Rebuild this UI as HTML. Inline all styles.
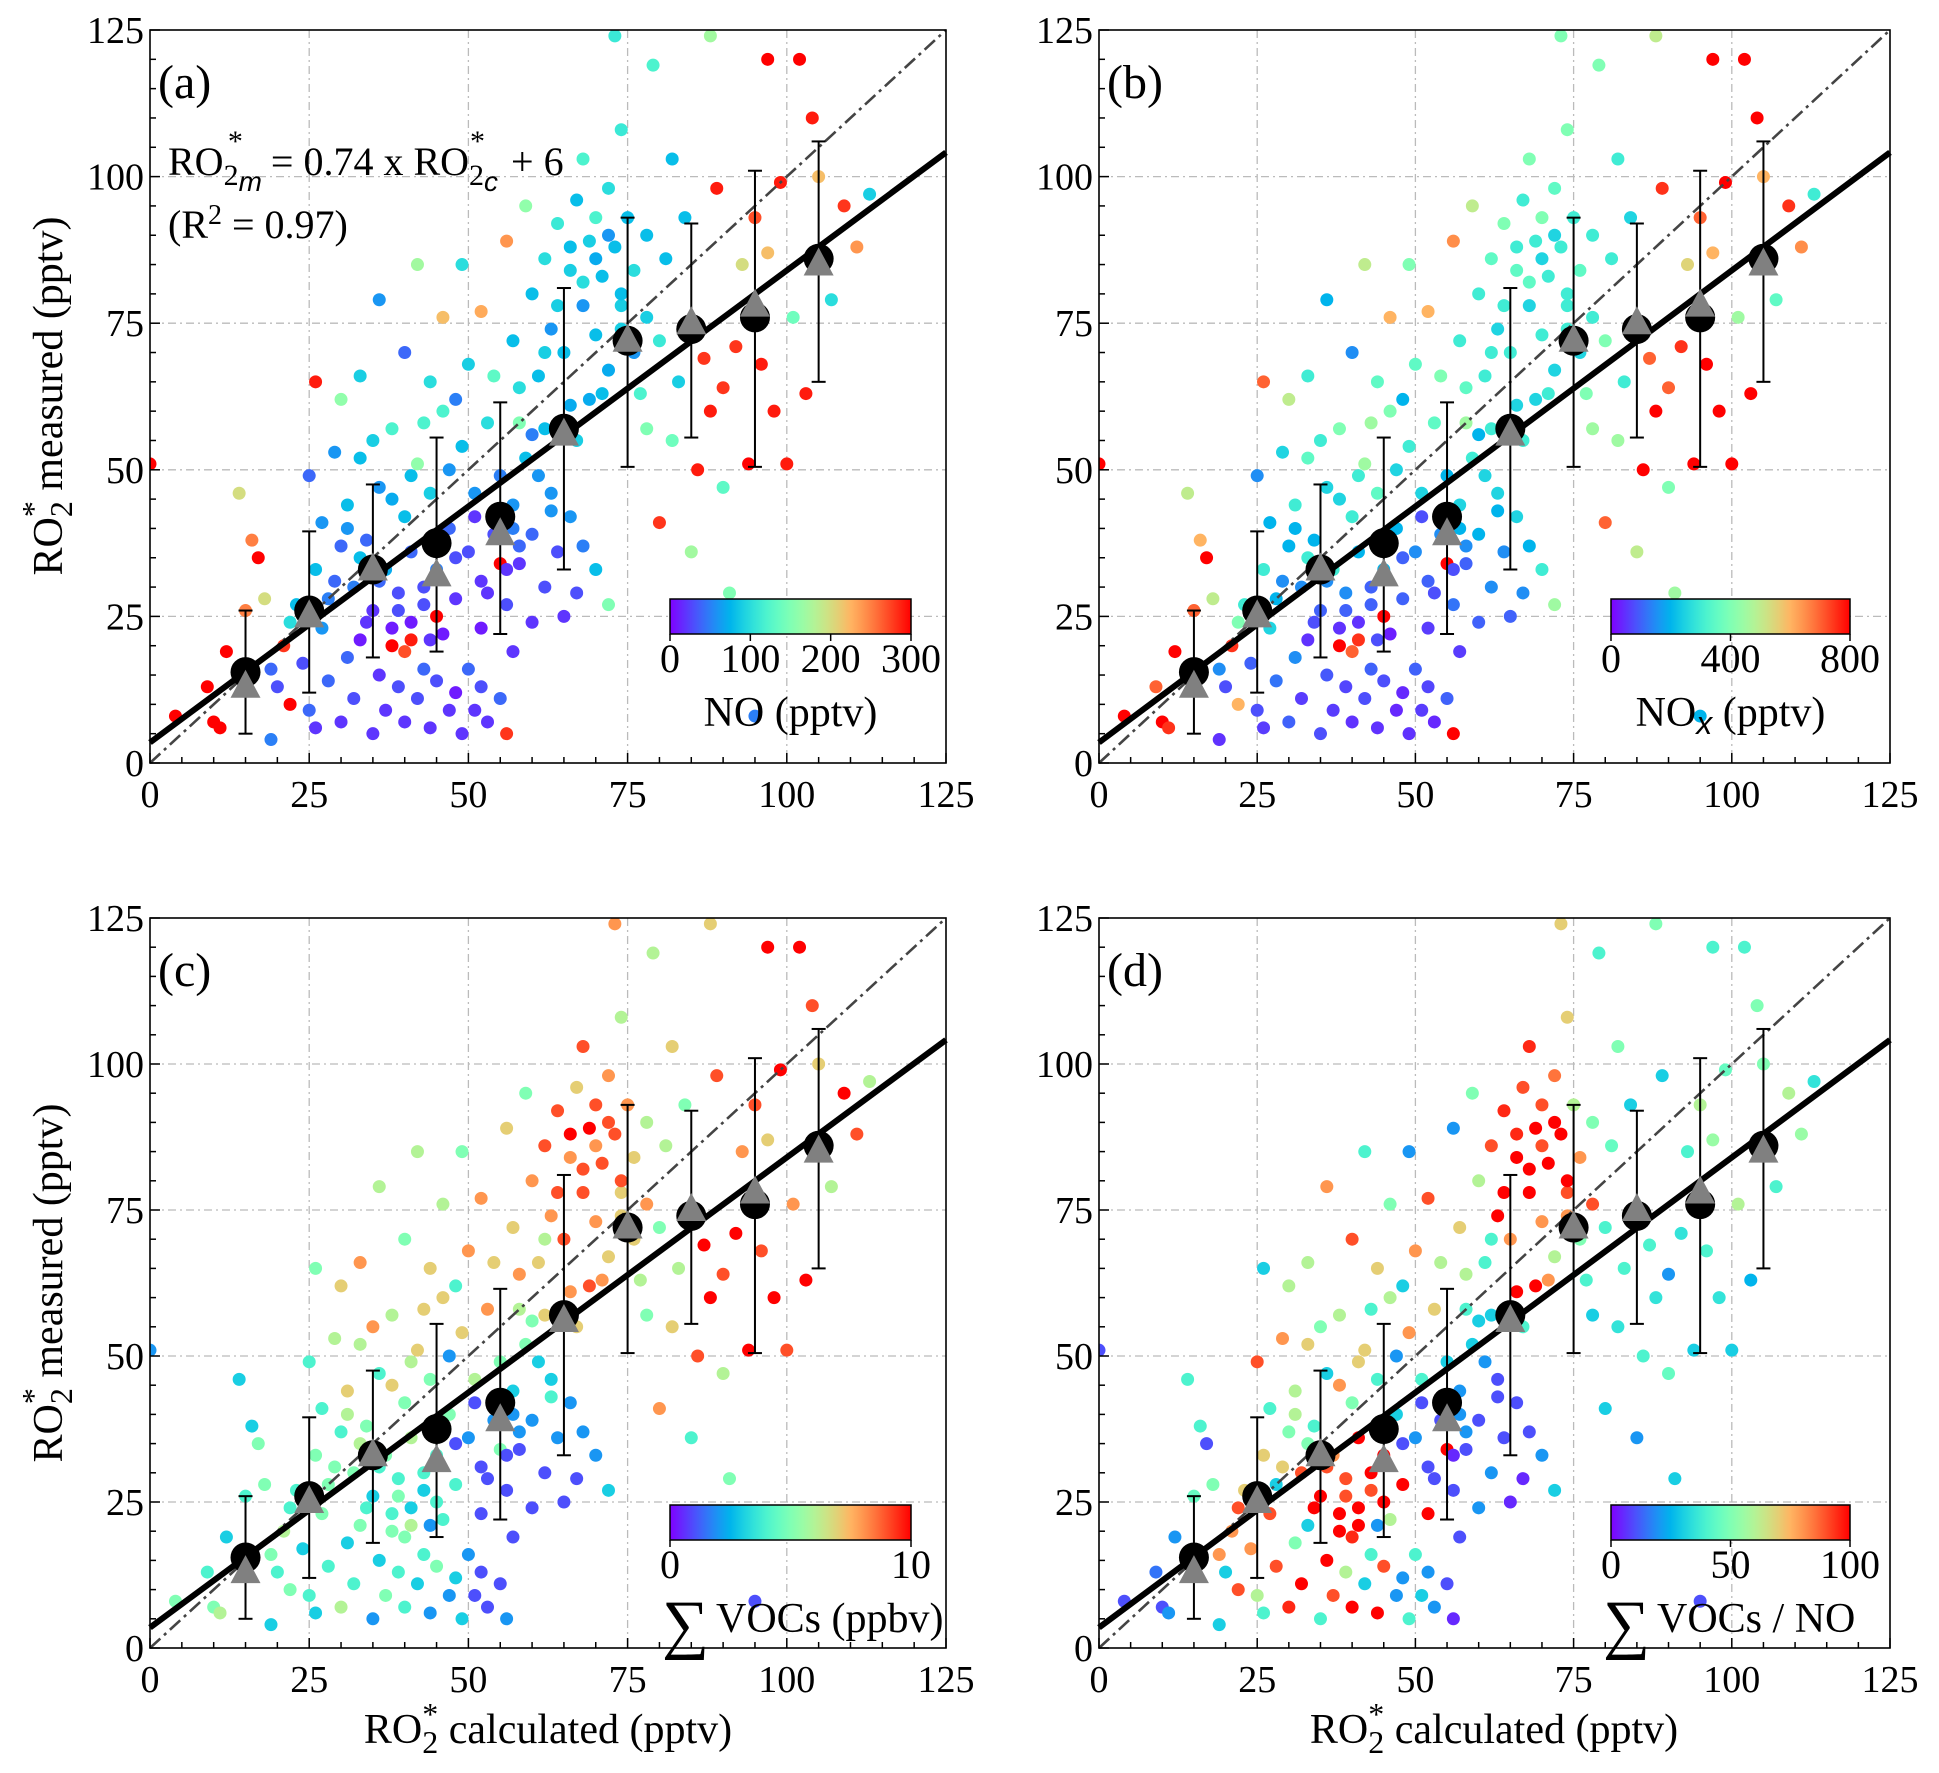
<!DOCTYPE html>
<html><head><meta charset="utf-8"><style>
body{margin:0;background:#fff}
svg{display:block}
svg text{font-family:"Liberation Serif","DejaVu Serif",serif}
</style></head><body>
<svg id="fig" width="1939" height="1773" viewBox="0 0 1939 1773" font-family="Liberation Serif, serif"></svg>
<script>
// ---- data ----
const pointX=[0,4,9,10,11,12,14,15,16,17,18,19,20,21,22,23,
24,25,26,28,30,31,32,33,35,36,37,38,39,40,40,41,42,43,44,45,46,47,48,49,50,51,52,53,55,56,57,
25,26,27,28,29,30,31,32,33,34,35,36,37,38,39,40,41,42,43,44,45,46,47,48,49,50,51,52,53,54,55,56,57,58,59,60,60,62,63,64,65,66,67,68,70,72,
33,36,40,42,44,46,48,49,50,52,54,56,57,58,59,
60,61,62,63,64,65,66,67,68,68,69,70,70,71,72,72,73,74,74,75,76,76,77,78,78,79,80,81,82,73,83,
80,82,84,85,86,87,88,89,90,90,91,92,93,94,95,96,97,98,99,100,101,102,103,104,105,107,109,111,113,97,88,95,
55,45,38,26,
29,34,39,44,48,53,58,63,67,71,31,36,41,46,51,56,61,66,27,33,38,43,47,52,57,62,69,74,78,64,66,68,70,72,74,62,60,58,41,43,35,30,22,19];
const pointY=[51,8,13,7,6,19,46,26,38,35,28,4,13,20,10,27,
17,9,6,14,7,18,11,21,5,15,9,23,13,19,7,21,11,16,6,14,22,9,12,5,16,9,13,7,11,5,19,
49,33,41,28,53,37,44,30,52,38,26,47,33,57,29,42,36,51,27,46,33,60,40,28,54,36,46,31,58,39,49,27,44,34,52,24,39,30,46,36,25,42,29,37,33,27,
66,79,70,85,65,76,62,85,68,77,66,89,72,58,95,
80,66,86,74,92,70,84,96,78,103,89,73,93,83,98,67,88,78,108,93,70,84,63,90,57,119,72,86,103,124,65,
41,55,93,36,50,69,60,98,64,47,29,71,85,51,93,68,87,60,99,51,76,120,63,110,100,79,95,88,97,120,124,8,
34,25,20,65,
31,24,26,21,35,29,37,43,55,63,40,31,24,38,42,33,49,61,23,35,45,30,50,23,40,57,62,80,76,78,88,82,86,90,74,70,56,64,49,58,55,62,24,16];
const noValues=[300,300,300,300,300,300,200,250,250,300,200,50,30,280,300,80,
30,40,20,40,20,40,30,10,20,20,20,10,30,270,20,290,30,40,20,30,10,20,10,20,40,20,30,20,40,280,20,
40,80,60,50,60,40,80,50,80,40,20,60,70,120,30,80,40,160,30,90,50,120,40,20,80,30,60,20,100,30,50,30,60,20,80,20,40,30,60,30,20,60,30,50,80,150,
90,60,40,170,100,220,50,100,90,230,130,240,80,150,160,
80,80,100,60,110,80,90,80,60,120,90,80,120,80,100,70,80,90,110,80,60,100,120,80,150,120,110,80,80,110,90,
280,140,80,170,290,280,290,290,280,130,150,280,200,300,270,290,220,290,290,290,140,300,290,290,220,100,280,240,90,300,170,50,
300,300,300,290,
40,20,30,20,30,20,40,60,90,80,60,40,10,50,20,20,60,70,60,80,70,30,60,10,50,80,70,80,90,90,80,100,70,60,90,90,50,100,80,120,90,160,100,40];
const noxValues=[800,800,700,800,750,800,500,700,600,800,500,50,80,750,600,300,
100,80,60,120,100,150,60,50,80,90,60,50,70,700,50,750,80,100,50,80,30,40,40,50,100,60,70,40,100,800,60,
150,300,200,200,250,200,300,150,350,200,100,250,300,400,150,300,200,450,100,350,200,400,200,100,300,150,250,100,350,150,200,120,250,100,300,100,200,150,250,150,100,250,150,200,300,450,
300,200,150,500,350,600,200,400,350,600,400,650,300,450,500,
300,300,350,250,400,300,350,300,250,400,300,300,400,300,350,250,300,300,400,300,250,350,400,300,450,400,400,300,300,400,300,
700,450,250,500,800,700,800,750,700,400,450,750,550,800,700,800,600,800,800,800,450,800,800,800,600,350,750,650,300,800,500,200,
800,800,800,700,
150,80,100,80,100,80,150,200,300,300,200,150,50,200,80,80,250,250,250,300,250,100,250,60,200,300,250,300,300,300,300,350,250,250,300,300,200,350,300,450,300,500,400,150];
const vocValues=[2,5,4,5,6,3,3,4,3,5,5,3,4,6,5,4,
3,4,3,4,6,3,4,5,2,3,5,4,4,5,4,6,3,4,2,5,4,2,3,3,2,1,1,1,1,2,1,
4,5,4,5,6,4,7,5,6,5,3,4,5,6,4,5,6,7,3,5,4,7,5,4,7,2,6,1,8,2,5,1,3,1,5,1,2,1,3,2,1,2,1,2,2,3,
8,6,5,6,7,6,4,5,8,8,7,7,7,6,5,
8,7,9,8,9,9,8,7,9,9,10,8,9,9,8,7,9,7,6,8,7,7,6,6,5,6,5,6,7,8,6,
8,7,5,4,9,10,10,9,9,6,5,10,8,10,9,9,7,10,10,9,8,10,10,9,7,6,10,9,6,10,7,1,
5,4,5,5,
5,4,5,2,1,1,2,4,7,8,6,4,3,2,1,1,3,8,5,6,7,4,2,1,2,7,9,9,8,9,10,9,8,9,7,6,5,8,6,7,8,7,4,5];
const ratioValues=[10,10,15,10,20,20,40,45,40,10,50,30,30,80,90,70,
80,60,40,90,95,50,100,30,40,100,90,100,60,95,100,100,30,40,100,90,60,20,20,40,40,30,20,20,10,5,10,
90,70,40,30,80,50,60,90,70,40,100,30,80,60,90,50,100,70,90,40,100,60,30,100,80,20,40,10,70,10,30,10,20,10,30,20,10,20,10,10,5,10,5,10,20,30,
60,80,90,40,70,50,30,20,80,90,60,20,70,40,50,
60,40,90,100,95,80,100,90,100,95,100,80,90,100,85,60,100,90,70,60,50,80,40,50,30,40,40,45,50,70,40,
30,35,30,20,40,40,35,30,20,45,30,35,40,30,60,40,55,35,45,30,60,40,25,50,50,40,60,55,35,40,50,10,
100,100,100,30,
70,100,90,20,10,10,20,10,40,80,60,90,100,40,10,5,20,100,90,50,80,100,20,100,20,30,100,100,90,100,95,100,90,100,80,40,30,60,70,40,50,60,90,80];
const binX=[15,25,35,45,55,65,75,85,95,105];
const binMeanMeasured=[15.5,26,33,37.5,42,57,72,74,76,86];
const binMeanModel=[13,25,33,32,39,56,72,75,78,85];
const binErrLow=[5,12,18,19,22,33,50.5,55.5,50.5,65];
const binErrHigh=[26,39.5,47.5,55.5,61.5,81,93,92,101,106];
const fitSlope=0.805, fitIntercept=3.5;
const axisTicks=[0,25,50,75,100,125];
const panelLetters=["(a)","(b)","(c)","(d)"];
const cbTicksA=[0,100,200,300], cbTicksB=[0,400,800], cbTicksC=[0,10], cbTicksD=[0,50,100];

const NS="http://www.w3.org/2000/svg";
const svg=document.getElementById('fig');
const SERIF="Liberation Serif, serif";
function mk(tag,attrs,parent,text){const e=document.createElementNS(NS,tag);for(const k in attrs)e.setAttribute(k,attrs[k]);if(tag==='text'&&!attrs['font-family'])e.setAttribute('font-family',SERIF);if(text!==undefined)e.textContent=text;(parent||svg).appendChild(e);return e;}
function rainbow(t){t=Math.max(0,Math.min(1,t));const r=Math.min(1,Math.abs(2*t-0.5)),g=Math.sin(Math.PI*t),b=Math.cos(Math.PI*t/2);return `rgb(${Math.round(r*255)},${Math.round(g*255)},${Math.round(b*255)})`;}

const defs=mk('defs',{});
const grad=mk('linearGradient',{id:'rb',x1:'0',x2:'1',y1:'0',y2:'0'},defs);
for(let i=0;i<=20;i++)mk('stop',{offset:(i/20),'stop-color':rainbow(i/20)},grad);

const panels=[
 {x0:150,x1:946,yb:763,yt:30,vals:noValues,max:300,ticks:cbTicksA,label:'NO (pptv)',cbx:670,cbw:241,cby:599},
 {x0:1099,x1:1890,yb:763,yt:30,vals:noxValues,max:800,ticks:cbTicksB,label:'NOx',cbx:1611,cbw:239,cby:599},
 {x0:150,x1:946,yb:1648,yt:918,vals:vocValues,max:10,ticks:cbTicksC,label:'VOCs (ppbv)',cbx:670,cbw:241,cby:1505},
 {x0:1099,x1:1890,yb:1648,yt:918,vals:ratioValues,max:100,ticks:cbTicksD,label:'VOCs / NO',cbx:1611,cbw:239,cby:1505}];

panels.forEach((p,pi)=>{
 const g=mk('g',{});
 
 
 const sx=v=>p.x0+(p.x1-p.x0)*v/125, sy=v=>p.yb-(p.yb-p.yt)*v/125;
 const clip=mk('clipPath',{id:'c'+pi},defs);mk('rect',{x:p.x0,y:p.yt,width:p.x1-p.x0,height:p.yb-p.yt},clip);
 axisTicks.slice(1,5).forEach(t=>{
  const gx=mk('line',{x1:sx(t),x2:sx(t),y1:p.yt,y2:p.yb,stroke:'#bbb','stroke-width':1.3,'stroke-dasharray':'8 4 2 4'},g);
  
  const gy=mk('line',{x1:p.x0,x2:p.x1,y1:sy(t),y2:sy(t),stroke:'#bbb','stroke-width':1.3,'stroke-dasharray':'8 4 2 4'},g);
  
 });
 const pg=mk('g',{'clip-path':`url(#c${pi})`},g);
 
 for(let i=0;i<pointX.length;i++){
  const c=mk('circle',{cx:sx(pointX[i]),cy:sy(pointY[i]),r:6.5,fill:rainbow(p.vals[i]/p.max)},pg);
  
 }
 const one=mk('line',{x1:sx(0),y1:sy(0),x2:sx(125),y2:sy(125),stroke:'#444','stroke-width':2.6,'stroke-dasharray':'14 5 3 5'},g);
 
 const fit=mk('line',{x1:sx(0),y1:sy(fitIntercept),x2:sx(125),y2:sy(fitIntercept+fitSlope*125),stroke:'#000','stroke-width':6},g);
 
 binX.forEach((bx,i)=>{
  const eb=mk('g',{stroke:'#000','stroke-width':2},g);
  
  mk('line',{x1:sx(bx),x2:sx(bx),y1:sy(binErrLow[i]),y2:sy(binErrHigh[i])},eb);
  mk('line',{x1:sx(bx)-7,x2:sx(bx)+7,y1:sy(binErrLow[i]),y2:sy(binErrLow[i])},eb);
  mk('line',{x1:sx(bx)-7,x2:sx(bx)+7,y1:sy(binErrHigh[i]),y2:sy(binErrHigh[i])},eb);
  const m=mk('circle',{cx:sx(bx),cy:sy(binMeanMeasured[i]),r:15,fill:'#000'},g);
  
  const X=sx(bx),Y=sy(binMeanModel[i]);
  const tr=mk('polygon',{points:`${X},${Y-17} ${X-15},${Y+11} ${X+15},${Y+11}`,fill:'#808080'},g);
  
 });
 const fr=mk('rect',{x:p.x0,y:p.yt,width:p.x1-p.x0,height:p.yb-p.yt,fill:'none',stroke:'#000','stroke-width':1.6},g);
 
 for(let v=0;v<=125;v+=5){
  const major=v%25===0, L=major?10:6;
  mk('line',{x1:sx(v),x2:sx(v),y1:p.yb,y2:p.yb-L,stroke:'#000','stroke-width':1.5},g);
  mk('line',{x1:p.x0,x2:p.x0+L,y1:sy(v),y2:sy(v),stroke:'#000','stroke-width':1.5},g);
 }
 axisTicks.forEach(t=>{
  const xl=mk('text',{x:sx(t),y:p.yb+44,'font-size':38,'text-anchor':'middle'},g,String(t));
  
  const yl=mk('text',{x:p.x0-6,y:sy(t)+13,'font-size':38,'text-anchor':'end'},g,String(t));
  
 });
 const pl=mk('text',{x:p.x0+8,y:p.yt+68,'font-size':48},g,panelLetters[pi]);
 
 const cb=mk('rect',{x:p.cbx,y:p.cby,width:p.cbw,height:35,fill:'url(#rb)',stroke:'#000','stroke-width':1.5},g);
 
 p.ticks.forEach(t=>{
  const X=p.cbx+p.cbw*t/p.max;
  mk('line',{x1:X,x2:X,y1:p.cby+35,y2:p.cby+42,stroke:'#000','stroke-width':1.5},g);
  const tl=mk('text',{x:X,y:p.cby+73,'font-size':40,'text-anchor':'middle'},g,String(t));
  
 });
 let lab;
 const cx=p.cbx+p.cbw/2, ly=p.cby+127;
 if(pi===0) lab=mk('text',{x:cx,y:ly,'font-size':42,'text-anchor':'middle'},g,'NO (pptv)');
 else if(pi===1){lab=mk('text',{x:cx,y:ly,'font-size':42,'text-anchor':'middle'},g);lab.innerHTML='NO<tspan font-style="italic" font-family="Liberation Sans" font-size="32" dy="8">x</tspan><tspan dy="-8"> (pptv)</tspan>';}
 else {lab=mk('text',{x:p.cbx+46,y:ly,'font-size':42,'text-anchor':'start'},g,p.label);
  const sg=mk('text',{x:p.cbx-8,y:ly+14,'font-size':66,'font-family':'DejaVu Sans'},g,'∑');
  }
 
});

const eq=mk('text',{x:168,y:175,'font-size':40});
eq.innerHTML='RO<tspan dy="10" font-size="30">2</tspan><tspan dy="6" font-size="28" font-style="italic" font-family="Liberation Sans">m</tspan><tspan dx="-34" dy="-40" font-size="30">*</tspan><tspan dx="18" dy="24"> = 0.74 x RO</tspan><tspan dy="10" font-size="30">2</tspan><tspan dy="6" font-size="28" font-style="italic" font-family="Liberation Sans">c</tspan><tspan dx="-28" dy="-40" font-size="30">*</tspan><tspan dx="16" dy="24"> + 6</tspan>';

const r2=mk('text',{x:168,y:238,'font-size':40});
r2.innerHTML='(R<tspan dy="-14" font-size="28">2</tspan><tspan dy="14"> = 0.97)</tspan>';


function ytitle(cy){const t=mk('text',{x:0,y:0,'font-size':42,'text-anchor':'middle',transform:`translate(62,${cy}) rotate(-90)`});
 t.innerHTML='RO<tspan dy="10" font-size="32">2</tspan><tspan dy="-28" dx="-16" font-size="32">*</tspan><tspan dy="18"> measured (pptv)</tspan>';
 }
ytitle(396);ytitle(1283);
function xtitle(cx){const t=mk('text',{x:cx,y:1743,'font-size':42,'text-anchor':'middle'});
 t.innerHTML='RO<tspan dy="10" font-size="32">2</tspan><tspan dy="-28" dx="-16" font-size="32">*</tspan><tspan dy="18"> calculated (pptv)</tspan>';
 }
xtitle(548);xtitle(1494);
</script>
</body></html>
